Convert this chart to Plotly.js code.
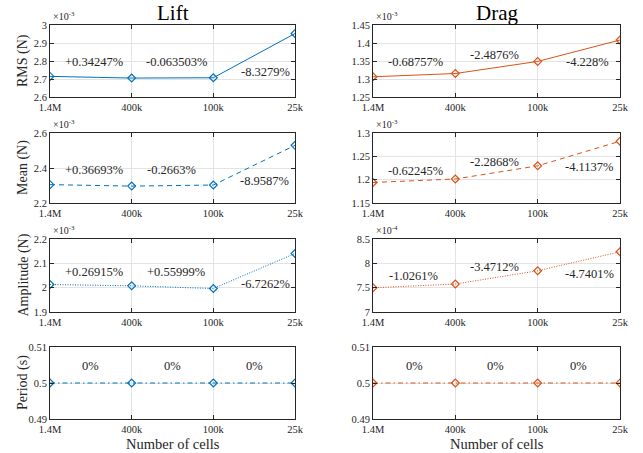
<!DOCTYPE html>
<html>
<head>
<meta charset="utf-8">
<script src="https://cdn.plot.ly/plotly-3.0.1.min.js"></script>
<style>html,body{margin:0;padding:0;background:#fff}#chart{width:643px;height:453px}</style>
</head>
<body>
<div id="chart"></div>
<script>
// ---- data ----
const cells = ['1.4M', '400k', '100k', '25k'];
// Lift (N), values in units of 1e-3 except period (s)
const liftRms = [2.7145, 2.7052, 2.7069, 2.9528];
const liftMean = [2.305, 2.2966, 2.3027, 2.5293];
const liftAmp = [2.013, 2.0076, 1.9964, 2.1404];
const liftPeriod = [0.5, 0.5, 0.5, 0.5];
// Drag (N), RMS/mean in 1e-3, amplitude in 1e-4, period (s)
const dragRms = [1.3062, 1.3152, 1.3488, 1.4083];
const dragMean = [1.194, 1.2015, 1.2296, 1.2824];
const dragAmp = [7.497, 7.5747, 7.8471, 8.2376];
const dragPeriod = [0.5, 0.5, 0.5, 0.5];
// percentage labels
const liftRmsPct = ['+0.34247%', '-0.063503%', '-8.3279%'];
const liftMeanPct = ['+0.36693%', '-0.2663%', '-8.9587%'];
const liftAmpPct = ['+0.26915%', '+0.55999%', '-6.7262%'];
const liftPeriodPct = ['0%', '0%', '0%'];
const dragRmsPct = ['-0.68757%', '-2.4876%', '-4.228%'];
const dragMeanPct = ['-0.62245%', '-2.2868%', '-4.1137%'];
const dragAmpPct = ['-1.0261%', '-3.4712%', '-4.7401%'];
const dragPeriodPct = ['0%', '0%', '0%'];
const rowTitles = ['RMS (N)', 'Mean (N)', 'Amplitude (N)', 'Period (s)'];
const colTitles = ['Lift', 'Drag'];

// ---- layout helpers ----
const W = 643, H = 453;
const FONT = 'Liberation Serif, Times New Roman, Times, serif';
const TXT = '#262626';
const BLUE = '#0072BD', ORANGE = '#D95319';
const colPx = [[50, 295], [373, 620]];
const rowPx = [[25, 97], [133, 203], [239, 312], [347, 419]];
const DASH = {solid: 'solid', dash: '5px,4px', dot: '1px,1.5px', dashdot: '5px,3px,1.5px,3px'};

const panels = [
  {r:0,c:0,y:liftRms,range:[2.6,3],dtick:0.1,dash:'solid',pct:liftRmsPct,pos:[[0.54,2.794],[1.55,2.794],[2.64,2.74]],exp:'-3'},
  {r:1,c:0,y:liftMean,range:[2.2,2.6],dtick:0.2,dash:'dash',pct:liftMeanPct,pos:[[0.54,2.389],[1.49,2.389],[2.63,2.326]],exp:'-3'},
  {r:2,c:0,y:liftAmp,range:[1.9,2.2],dtick:0.1,dash:'dot',pct:liftAmpPct,pos:[[0.54,2.066],[1.54,2.066],[2.64,2.014]],exp:'-3'},
  {r:3,c:0,y:liftPeriod,range:[0.49,0.51],dtick:0.01,dash:'dashdot',pct:liftPeriodPct,pos:[[0.49,0.5047],[1.5,0.5047],[2.5,0.5047]],exp:null},
  {r:0,c:1,y:dragRms,range:[1.25,1.45],dtick:0.05,dash:'solid',pct:dragRmsPct,pos:[[0.52,1.348],[1.48,1.368],[2.6,1.348]],exp:'-3'},
  {r:1,c:1,y:dragMean,range:[1.15,1.3],dtick:0.05,dash:'dash',pct:dragMeanPct,pos:[[0.52,1.218],[1.48,1.238],[2.63,1.227]],exp:'-3'},
  {r:2,c:1,y:dragAmp,range:[7,8.5],dtick:0.5,dash:'dot',pct:dragAmpPct,pos:[[0.49,7.74],[1.48,7.93],[2.63,7.775]],exp:'-4'},
  {r:3,c:1,y:dragPeriod,range:[0.49,0.51],dtick:0.01,dash:'dashdot',pct:dragPeriodPct,pos:[[0.5,0.5047],[1.49,0.5047],[2.49,0.5047]],exp:null}
];

const data = [];
const layout = {
  width: W, height: H,
  margin: {l:0, r:0, t:0, b:0},
  paper_bgcolor: '#fff', plot_bgcolor: '#fff',
  showlegend: false,
  font: {family: FONT, color: TXT, size: 10},
  annotations: []
};

panels.forEach((p, i) => {
  const n = i + 1;
  const xa = 'xaxis' + (n === 1 ? '' : n), ya = 'yaxis' + (n === 1 ? '' : n);
  const xr = 'x' + (n === 1 ? '' : n), yr = 'y' + (n === 1 ? '' : n);
  const color = p.c === 0 ? BLUE : ORANGE;
  data.push({
    type: 'scatter', mode: 'lines+markers', x: cells, y: p.y,
    xaxis: xr, yaxis: yr,
    line: {color: color, width: 1, dash: DASH[p.dash]},
    marker: {symbol: 'diamond-open', size: 6, color: color, line: {color: color, width: 1.2}},
    hoverinfo: 'x+y'
  });
  const cx = colPx[p.c], ry = rowPx[p.r];
  const common = {
    showline: true, linecolor: TXT, linewidth: 1, mirror: 'ticks',
    ticks: 'inside', ticklen: 4, tickcolor: TXT, tickwidth: 1,
    showgrid: true, gridcolor: '#e3e3e3', gridwidth: 1, zeroline: false,
    tickfont: {family: FONT, size: 10.5, color: TXT}, fixedrange: true
  };
  layout[xa] = Object.assign({}, common, {
    type: 'category', range: [0, 3], anchor: yr,
    domain: [cx[0] / W, cx[1] / W]
  });
  layout[ya] = Object.assign({}, common, {
    range: p.range, dtick: p.dtick, tick0: p.range[0], anchor: xr,
    domain: [1 - ry[1] / H, 1 - ry[0] / H]
  });
  p.pct.forEach((t, k) => {
    layout.annotations.push({
      xref: xr, yref: yr, x: p.pos[k][0], y: p.pos[k][1], text: t,
      showarrow: false, xanchor: 'center', yanchor: 'middle',
      font: {family: FONT, size: 12.5, color: TXT}
    });
  });
  if (p.exp) {
    layout.annotations.push({
      xref: 'paper', yref: 'paper', x: (cx[0] + 1) / W, y: 1 - ry[0] / H + 1 / H,
      text: '\u00d710<sup>' + p.exp + '</sup>', showarrow: false,
      xanchor: 'left', yanchor: 'bottom',
      font: {family: FONT, size: 10, color: TXT}
    });
  }
});

rowTitles.forEach((t, r) => {
  const ry = rowPx[r];
  layout.annotations.push({
    xref: 'paper', yref: 'paper', x: 23 / W, y: 1 - (ry[0] + ry[1]) / 2 / H,
    text: t, textangle: -90, showarrow: false, xanchor: 'center', yanchor: 'middle',
    font: {family: FONT, size: 14, color: TXT}
  });
});
colTitles.forEach((t, c) => {
  const cx = colPx[c];
  layout.annotations.push({
    xref: 'paper', yref: 'paper', x: (cx[0] + cx[1]) / 2 / W, y: 1 - 13 / H,
    text: t, showarrow: false, xanchor: 'center', yanchor: 'middle',
    font: {family: FONT, size: 21, color: '#000'}
  });
  layout.annotations.push({
    xref: 'paper', yref: 'paper', x: (cx[0] + cx[1]) / 2 / W, y: 1 - 444 / H,
    text: 'Number of cells', showarrow: false, xanchor: 'center', yanchor: 'middle',
    font: {family: FONT, size: 14.5, color: TXT}
  });
});

Plotly.newPlot('chart', data, layout, {displayModeBar: false, staticPlot: true});
</script>
</body>
</html>
